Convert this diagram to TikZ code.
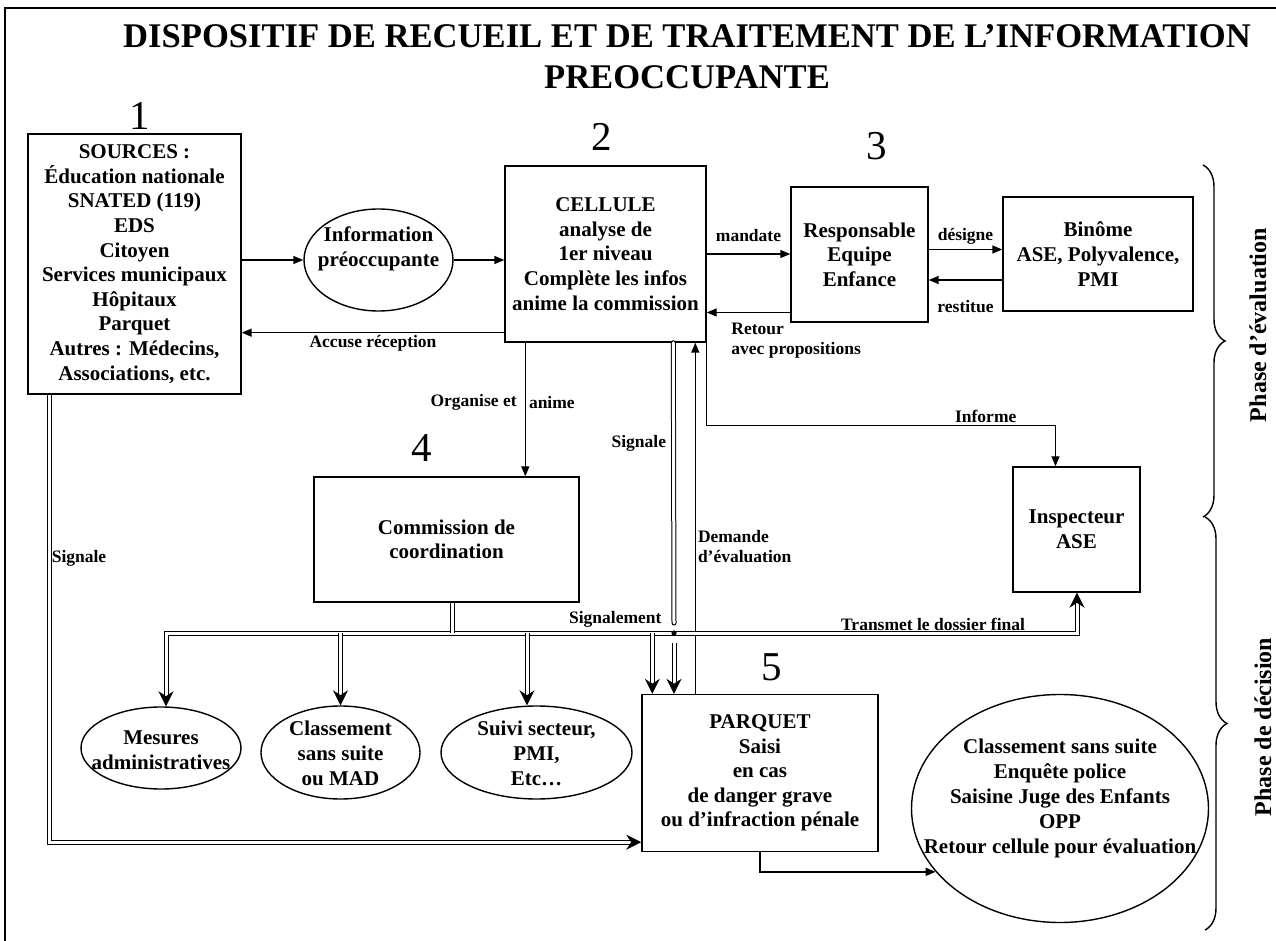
\documentclass[tikz,border=0pt]{standalone}
\usepackage{fontspec}
\setmainfont{Liberation Serif}
\usetikzlibrary{positioning,arrows.meta,shapes.geometric,decorations.pathreplacing}
\tikzset{
    boite/.style={draw, rectangle, line width=0.7pt, align=center, inner sep=2pt,
        font=\bfseries\fontsize{10.5}{12.3}\selectfont},
    bulle/.style={draw, ellipse, line width=0.7pt, inner sep=0pt},
    texte/.style={align=center, inner sep=0pt, font=\bfseries\fontsize{10.5}{12.5}\selectfont},
    etiq/.style={inner sep=1pt, align=left, font=\bfseries\fontsize{8.75}{10}\selectfont},
    num/.style={inner sep=0pt, font=\fontsize{20.5}{22}\selectfont},
    phase/.style={rotate=90, inner sep=0pt, font=\bfseries\fontsize{12}{14}\selectfont},
    fleche/.style={line width=0.7pt, -{Triangle[length=5pt,width=4pt]}},
    dbl/.style={double, double distance=1.5pt, line width=0.5pt},
    dfleche/.style={dbl, -{Stealth[length=7.5pt,width=7.5pt]}},
    accolade/.style={decorate, decoration={brace, amplitude=11pt}, line width=0.7pt},
}
\begin{document}
\begin{tikzpicture}[x=0.5pt, y=-0.5pt]
      \useasboundingbox (0,0) rectangle (1276,941);
      \draw[line width=1.3pt] (5,941) |- (1276,8);
      \node[texte, font=\bfseries\fontsize{17.3}{20.5}\selectfont] (titre) at (687,57)
          {DISPOSITIF DE RECUEIL ET DE TRAITEMENT DE L’INFORMATION\\PREOCCUPANTE};

      % numeros des etapes
      \node[num] (n1) at (140,116) {1};
      \node[num] (n2) at (602,137) {2};
      \node[num] (n3) at (877,146) {3};
      \node[num] (n4) at (422,448) {4};
      \node[num] (n5) at (772,667) {5};

      % boites
      \node[boite, minimum width=106.5pt, minimum height=130pt] (sources) at (134.5,264)
          {SOURCES~:\\Éducation nationale\\SNATED (119)\\EDS\\Citoyen\\Services municipaux\\Hôpitaux\\Parquet\\Autres~: Médecins,\\Associations, etc.};
      \node[boite, minimum width=100.5pt, minimum height=88pt] (cellule) at (605.5,254)
          {CELLULE\\analyse de\\1er niveau\\Complète les infos\\anime la commission};
      \node[boite, minimum width=68.5pt, minimum height=67.5pt] (equipe) at (859.5,254.5)
          {Responsable\\Equipe\\Enfance};
      \node[boite, minimum width=95pt, minimum height=57pt] (binome) at (1098,254)
          {Binôme\\ASE, Polyvalence,\\PMI};
      \node[boite, minimum width=63.5pt, minimum height=62.5pt] (inspecteur) at (1076.5,529.5)
          {Inspecteur\\ASE};
      \node[boite, minimum width=132.5pt, minimum height=62.5pt] (commission) at (446.5,539.5)
          {Commission de\\coordination};
      \node[boite, minimum width=118pt, minimum height=78.5pt] (parquet) at (760,773)
          {PARQUET\\Saisi\\en cas\\de danger grave\\ou d’infraction pénale};

      % bulles
      \node[bulle, minimum width=74.5pt, minimum height=51pt] (info) at (378.5,260) {};
      \node[texte] (infotexte) at (378.5,249) {Information\\préoccupante};
      \node[bulle, minimum width=80pt, minimum height=41pt] (mesures) at (161,748) {};
      \node[texte] (mesurestexte) at (161,750) {Mesures\\administratives};
      \node[bulle, minimum width=79.5pt, minimum height=46.5pt] (classement) at (340.5,752.5) {};
      \node[texte] (classementtexte) at (340.5,753) {Classement\\sans suite\\ou MAD};
      \node[bulle, minimum width=95.5pt, minimum height=46.5pt] (suivi) at (536.5,752.5) {};
      \node[texte] (suivitexte) at (536.5,753) {Suivi secteur,\\PMI,\\Etc…};
      \node[bulle, minimum width=148.5pt, minimum height=114pt] (decision) at (1060,808.5) {};
      \node[texte] (decisiontexte) at (1060,798)
          {Classement sans suite\\Enquête police\\Saisine Juge des Enfants\\OPP\\Retour cellule pour évaluation};

      % phases
      \node[phase] (evaluation) at (1258,325) {Phase d’évaluation};
      \node[phase] (decisionphase) at (1263,727) {Phase de décision};
      \draw[accolade] (1203,165) -- (1203,517);
      \draw[accolade] (1205,517) -- (1205,930);

      % fleches simples
      \draw[fleche] (info.west -| sources.east) -- (info.west);
      \draw[fleche] (info.east) -- (info.east -| cellule.west);
      \draw[fleche] ([yshift=5pt]cellule.south west) -- ([yshift=5pt]cellule.south west -| sources.east)
          node[etiq, midway, below=0pt] {Accuse réception};
      \draw[fleche] (cellule.east) -- (cellule.east -| equipe.west)
          node[etiq, midway, above=5pt] {mandate};
      \draw[fleche] ([yshift=-29pt]equipe.west) -- ([yshift=-29pt]equipe.west -| cellule.east)
          node[etiq, pos=1, anchor=north west, xshift=11pt, yshift=-4pt] {Retour\\avec propositions};
      \draw[fleche] ([yshift=2.5pt]equipe.east) -- ([yshift=2.5pt]equipe.east -| binome.west)
          node[etiq, midway, above=1pt] {désigne};
      \draw[fleche] ([yshift=-13pt]binome.west) -- ([yshift=-13pt]binome.west -| equipe.east)
          node[etiq, midway, below=9pt] {restitue};
      \draw[fleche] (cellule.south east) -- ++(0,83) -| ([xshift=-10.5pt]inspecteur.north)
          node[etiq, pos=0.4, above=0pt] {Informe};
      \draw[fleche] ([xshift=10.5pt]cellule.south west) -- ([xshift=10.5pt]cellule.south west |- commission.north)
          node[etiq, pos=0.444, left=3pt] {Organise et}
          node[etiq, pos=0.444, right=0.5pt] {anime};
      \draw[fleche] ([xshift=27pt]parquet.north west) -- ([xshift=27pt]parquet.north west |- cellule.south)
          node[etiq, pos=0.42, right=0pt] {Demande\\d’évaluation};
      \draw[fleche] (parquet.south) |- (decision.207);

      % fleches doubles
      \coordinate (sighaut) at (674,623);
      \coordinate (sigpoint) at (674,633);
      \coordinate (sigbas) at (674,643);
      \coordinate (busg) at (166,633);
      \coordinate (busd) at (1077,633);
      \draw[dbl, line cap=round] ([xshift=84.5pt]cellule.south west) -- (sighaut)
          node[etiq, pos=0.36, left=2.5pt] {Signale}
          node[etiq, pos=1, left=5pt, yshift=2pt] {Signalement};
      \draw[dbl, {Stealth[length=7.5pt,width=7.5pt]}-{Stealth[length=7.5pt,width=7.5pt]}]
          (busg |- mesures.north) -- (busg) -- (busd)
          node[etiq, pos=0.842, above=0pt] {Transmet le dossier final}
          -- (busd |- inspecteur.south);
      \draw[dbl] ([xshift=3pt]commission.south) -- ([xshift=3pt]commission.south |- busg);
      \draw[dfleche] (classement.north |- busg) -- (classement.north);
      \draw[dfleche] ([xshift=-4.75pt]suivi.north |- busg) -- ([xshift=-4.75pt]suivi.north);
      \draw[dfleche] ([xshift=5.5pt]parquet.north west |- busg) -- ([xshift=5.5pt]parquet.north west);
      \draw[dfleche] (sigbas) -- (sigbas |- parquet.north);
      \fill (sigpoint) circle (1.3pt);
      \draw[dfleche] ([xshift=11pt]sources.south west) |- ([yshift=5pt]parquet.south west)
          node[etiq, pos=0.183, right=0pt] {Signale};
\end{tikzpicture}
\end{document}
